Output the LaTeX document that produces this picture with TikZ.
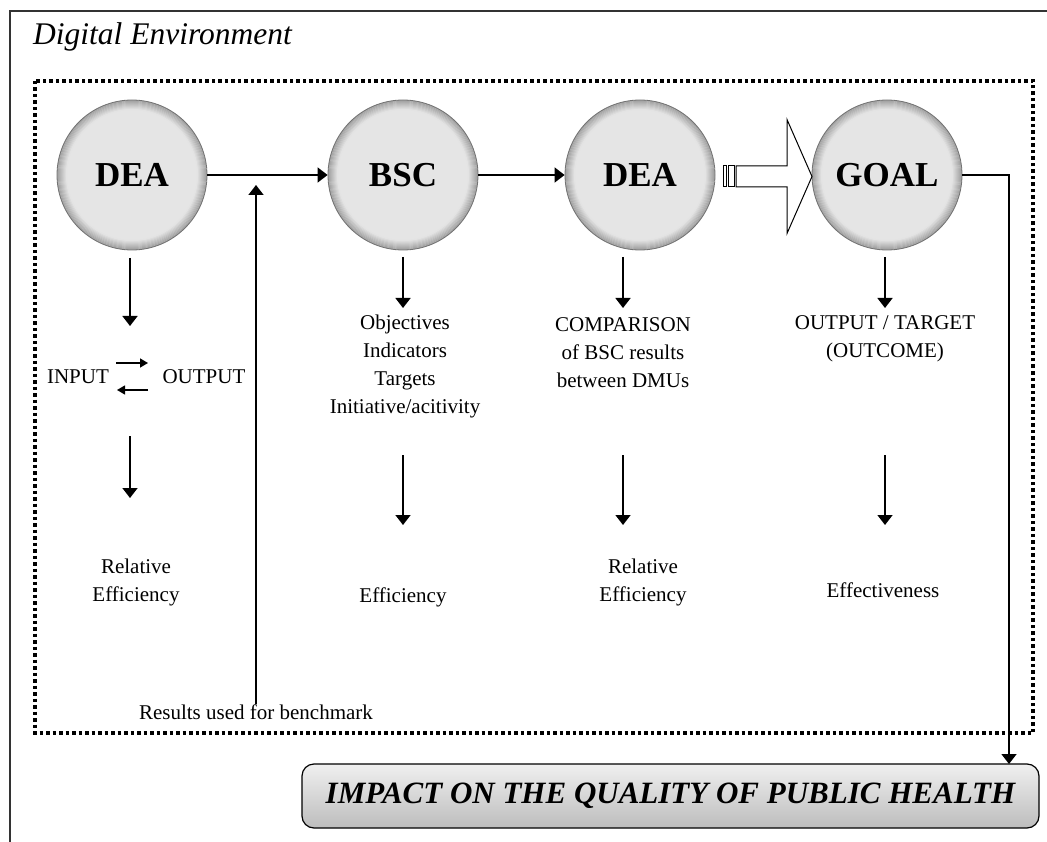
\documentclass[tikz,border=0pt]{standalone}
\usepackage{fontspec}
\setmainfont{Liberation Serif}
\usetikzlibrary{arrows.meta}

\tikzset{
  stage/.style={circle,minimum size=150pt,inner sep=0pt,draw=black!55,line width=0.8pt,
    fill=black!10,font=\fontsize{35}{40}\selectfont\bfseries,
    path picture={
      \foreach \k [evaluate=\k as \c using int(38-3*\k)] in {0,...,9}
        \draw[black!\c,line width=1.1pt] (path picture bounding box.center) circle (74.5pt-\k pt);
    }},
  txt/.style={align=center,inner sep=0pt,font=\fontsize{21}{28}\selectfont},
  arr/.style={line width=1.6pt,-{Triangle[length=10pt,width=15pt]}},
  sarr/.style={line width=1.4pt,-{Triangle[length=8pt,width=9pt]}},
}

\begin{document}
\begin{tikzpicture}[x=1pt,y=-1pt]
  \useasboundingbox (0,0) rectangle (1047,842);
  % outer frame and dotted environment
  \draw[line width=1.6pt,black!80] (10,842) -- (10,11) -- (1047,11);
  \node[anchor=west,inner sep=0pt,font=\fontsize{31.5}{34}\selectfont\itshape] (env) at (33,37) {Digital Environment};
  \draw[line width=3.5pt,dash pattern=on 3.5pt off 3pt] (35,81) rectangle (1033,733);
  % the four stages
  \node[stage] (dea1) at (132,175) {DEA};
  \node[stage] (bsc)  at (403,175) {BSC};
  \node[stage] (dea2) at (640,175) {DEA};
  \node[stage] (goal) at (887,175) {GOAL};
  \draw[arr] (dea1) -- (bsc);
  \draw[arr] (bsc) -- (dea2);
  % hollow arrow DEA -> GOAL
  \draw[line width=1pt,fill=white] (723,166) rectangle (726,187);
  \draw[line width=1pt,fill=white] (728,166) rectangle (734,187);
  \draw[line width=1pt,fill=white] (736,166) -- (787,166) -- (787,119.5) -- (812,176.5)
    -- (787,233.5) -- (787,187) -- (736,187) -- cycle;
  % first column
  \coordinate (d1a) at (130,258);
  \coordinate (d1b) at (130,326);
  \draw[arr] (d1a) -- (d1b);
  \node[txt] (in)  at (78,377)  {INPUT};
  \node[txt] (out) at (204,377) {OUTPUT};
  \coordinate (io1) at (116,363);
  \coordinate (io2) at (148,363);
  \coordinate (oi1) at (148,390);
  \coordinate (oi2) at (117,390);
  \draw[sarr] (io1) -- (io2);
  \draw[sarr] (oi1) -- (oi2);
  \coordinate (d1c) at (130,436);
  \coordinate (d1d) at (130,498);
  \draw[arr] (d1c) -- (d1d);
  \node[txt] (eff1) at (136,582) {Relative\\Efficiency};
  % second column
  \coordinate (d2a) at (403,257);
  \coordinate (d2b) at (403,308);
  \draw[arr] (d2a) -- (d2b);
  \node[txt] (bsclist) at (405,366) {Objectives\\Indicators\\Targets\\Initiative/acitivity};
  \coordinate (d2c) at (403,455);
  \coordinate (d2d) at (403,525);
  \draw[arr] (d2c) -- (d2d);
  \node[txt] (eff2) at (403,597) {Efficiency};
  % third column
  \coordinate (d3a) at (623,257);
  \coordinate (d3b) at (623,308);
  \draw[arr] (d3a) -- (d3b);
  \node[txt] (comp) at (623,353) {COMPARISON\\of BSC results\\between DMUs};
  \coordinate (d3c) at (623,455);
  \coordinate (d3d) at (623,525);
  \draw[arr] (d3c) -- (d3d);
  \node[txt] (eff3) at (643,582) {Relative\\Efficiency};
  % fourth column
  \coordinate (d4a) at (885,257);
  \coordinate (d4b) at (885,308);
  \draw[arr] (d4a) -- (d4b);
  \node[txt] (outc) at (885,339) {OUTPUT / TARGET\\(OUTCOME)};
  \coordinate (d4c) at (885,455);
  \coordinate (d4d) at (885,525);
  \draw[arr] (d4c) -- (d4d);
  \node[txt] (eff4) at (883,590) {Effectiveness};
  % benchmark feedback
  \node[txt] (bench) at (256,712) {Results used for benchmark};
  \coordinate (bup) at (256,185);
  \draw[arr] (bench.north) -- (bup);
  % impact
  \node[draw,line width=1.2pt,rounded corners=12pt,top color=black!6,bottom color=black!26,
    minimum width=737pt,minimum height=64pt,inner sep=0pt,
    font=\fontsize{31}{36}\selectfont\bfseries\itshape] (impact) at (670.5,796)
    {IMPACT ON THE QUALITY OF PUBLIC HEALTH};
  \coordinate (hit) at (1009,764);
  \draw[arr] (goal.east) -| (hit);
\end{tikzpicture}
\end{document}
